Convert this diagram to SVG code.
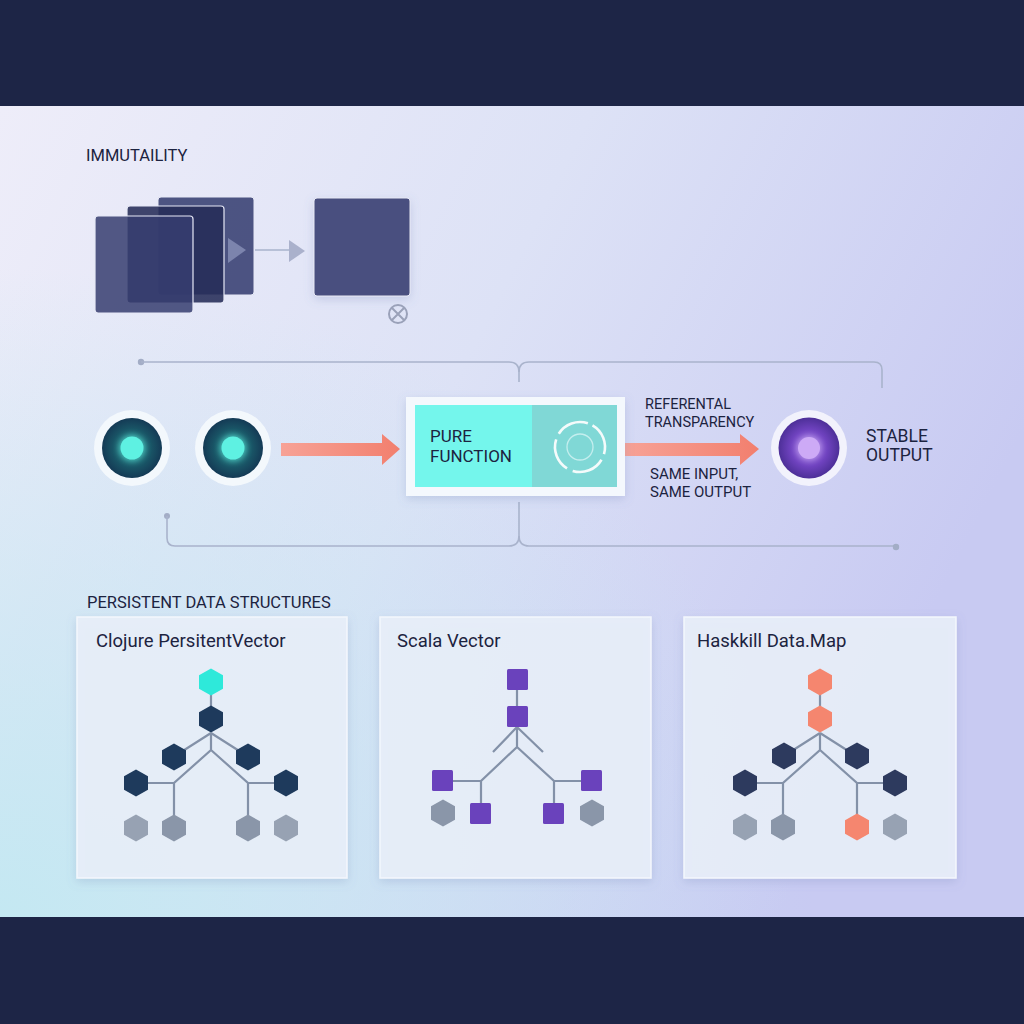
<svg xmlns="http://www.w3.org/2000/svg" width="1024" height="1024" viewBox="0 0 1024 1024">
<defs>
<linearGradient id="bg" x1="0" y1="0" x2="1" y2="0.4">
<stop offset="0" stop-color="#eeedf9"/>
<stop offset="0.5" stop-color="#dde2f6"/>
<stop offset="1" stop-color="#c8caf2"/>
</linearGradient>
<radialGradient id="bgc" cx="0" cy="1" r="0.8">
<stop offset="0" stop-color="#c4e8f2" stop-opacity="1"/>
<stop offset="1" stop-color="#c4e8f2" stop-opacity="0"/>
</radialGradient>
<radialGradient id="tealDot" cx="0.5" cy="0.5" r="0.5">
<stop offset="0" stop-color="#2a8a8c"/>
<stop offset="0.6" stop-color="#1a5868"/>
<stop offset="1" stop-color="#143a55"/>
</radialGradient>
<radialGradient id="purpDot" cx="0.5" cy="0.5" r="0.5">
<stop offset="0" stop-color="#a77ee6"/>
<stop offset="0.6" stop-color="#7043c0"/>
<stop offset="1" stop-color="#4d2f98"/>
</radialGradient>
<linearGradient id="arrowG" x1="0" y1="0" x2="1" y2="0">
<stop offset="0" stop-color="#f7a296"/>
<stop offset="1" stop-color="#f27f6e"/>
</linearGradient>
<filter id="sh" x="-20%" y="-20%" width="140%" height="140%">
<feDropShadow dx="0" dy="3" stdDeviation="5" flood-color="#6a7ab0" flood-opacity="0.25"/>
</filter>
<filter id="glow" x="-50%" y="-50%" width="200%" height="200%">
<feGaussianBlur stdDeviation="3"/>
</filter>
<path id="hex" d="M0,-13.5 L12,-6.75 L12,6.75 L0,13.5 L-12,6.75 L-12,-6.75 Z"/>
<style>
.t{font-family:Roboto,"Liberation Sans",sans-serif;fill:#1c2340}
.h{font-size:16.5px}
.pt{font-size:18.5px}
.lbl{font-size:14.5px}
.conn{fill:none;stroke:#a9b3cc;stroke-width:1.6}
.tree{fill:none;stroke:#8391a8;stroke-width:2.2}
.panel{fill:#e9eff9;fill-opacity:0.9;stroke:#f4f7fd;stroke-width:1.5}
.sq{fill:#6a42bc}
.navy{fill:#1e3a5c}
.dnav{fill:#2d3a5e}
.gray{fill:#8a96a9}
.lgray{fill:#97a2b3}
.sal{fill:#f5866f}
</style>
</defs>

<!-- background -->
<rect x="0" y="0" width="1024" height="1024" fill="#1d2546"/>
<rect x="0" y="106" width="1024" height="811" fill="url(#bg)"/>
<rect x="0" y="106" width="1024" height="811" fill="url(#bgc)"/>

<!-- section titles -->
<text class="t h" x="86" y="161">IMMUTAILITY</text>
<text class="t h" x="87" y="608">PERSISTENT DATA STRUCTURES</text>

<!-- immutability illustration -->
<g id="immutable-stack">
<rect x="158" y="197" width="96" height="98" rx="3" fill="#3f4677" fill-opacity="0.92" stroke="#e6e8f5" stroke-width="1"/>
<polygon points="228,238 246,250 228,263" fill="#7c84ad"/>
<rect x="127" y="206" width="97" height="97" rx="3" fill="#262c58" fill-opacity="0.88" stroke="#e6e8f5" stroke-width="1.2"/>
<rect x="95" y="216" width="98" height="97" rx="3" fill="#363d70" fill-opacity="0.85" stroke="#e6e8f5" stroke-width="1.2"/>
</g>
<g id="immutable-result">
<rect x="314" y="198" width="96" height="98" rx="3" fill="#4a507f" stroke="#e6e8f5" stroke-width="1" filter="url(#sh)"/>
<circle cx="398" cy="314" r="9" fill="none" stroke="#9aa1b9" stroke-width="2"/>
<path d="M392,308 L404,320 M404,308 L392,320" stroke="#9aa1b9" stroke-width="2"/>
</g>

<!-- connectors -->
<g id="connectors">
<path class="conn" d="M255,250 H290"/>
<polygon points="289,240 305,251 289,262" fill="#aab1cc"/>
<circle cx="141" cy="362" r="3.2" fill="#a3adc6"/>
<path class="conn" d="M141,362 H509 Q519,362 519,372 V382"/>
<path class="conn" d="M519,372 Q519,362 529,362 H874 Q882,362 882,370 V388"/>
<circle cx="167" cy="516" r="3" fill="#a3adc6"/>
<path class="conn" d="M167,516 V538 Q167,546 175,546 H509 Q519,546 519,536 V502"/>
<path class="conn" d="M519,536 Q519,546 529,546 H896"/>
<circle cx="896" cy="547" r="3.2" fill="#a3adc6"/>
<path d="M281,443 H382 V434 L400,449 L382,465 V456 H281 Z" fill="url(#arrowG)"/>
<path d="M625,443 H740 V434 L759,449 L740,465 V456 H625 Z" fill="url(#arrowG)"/>
</g>

<!-- input nodes -->
<g id="input-1">
<circle cx="132" cy="448" r="38" fill="#f5f9fd" opacity="0.9"/>
<circle cx="132" cy="448" r="30" fill="url(#tealDot)"/>
<circle cx="132" cy="448" r="13" fill="#5ef3e3" filter="url(#glow)" opacity="0.7"/>
<circle cx="132" cy="448" r="11.5" fill="#5ef1e2"/>
</g>
<g id="input-2">
<circle cx="233" cy="448" r="38" fill="#f5f9fd" opacity="0.9"/>
<circle cx="233" cy="448" r="30" fill="url(#tealDot)"/>
<circle cx="233" cy="448" r="13" fill="#5ef3e3" filter="url(#glow)" opacity="0.7"/>
<circle cx="233" cy="448" r="11.5" fill="#5ef1e2"/>
</g>

<!-- pure function -->
<g id="pure-function">
<rect x="406" y="397" width="219" height="99" fill="#f4f8fd" filter="url(#sh)"/>
<rect x="415" y="405" width="117" height="82" fill="#74f6ec"/>
<rect x="532" y="405" width="85" height="82" fill="#80d8d6"/>
<text class="t" x="430" y="442" font-size="17">PURE</text>
<text class="t" x="430" y="462" font-size="17">FUNCTION</text>
<circle cx="580" cy="447" r="25" fill="none" stroke="#f4fbfb" stroke-width="2.6" stroke-dasharray="33 6.3" transform="rotate(-60 580 447)"/>
<circle cx="580" cy="447" r="13" fill="none" stroke="#c4eeee" stroke-width="1.3"/>
</g>

<!-- labels -->
<g id="arrow-labels">
<text class="t lbl" x="645" y="409">REFERENTAL</text>
<text class="t lbl" x="645" y="427">TRANSPARENCY</text>
<text class="t" x="650" y="479" font-size="15">SAME INPUT,</text>
<text class="t" x="650" y="497" font-size="15">SAME OUTPUT</text>
</g>

<!-- output node -->
<g id="stable-output">
<circle cx="809" cy="448" r="38" fill="#f3f3fc" opacity="0.95"/>
<circle cx="809" cy="448" r="30.5" fill="url(#purpDot)"/>
<circle cx="809" cy="448" r="12" fill="#c8a6f4" filter="url(#glow)" opacity="0.8"/>
<circle cx="809" cy="448" r="11" fill="#cdaaf6"/>
<text class="t" x="866" y="442" font-size="17.5">STABLE</text>
<text class="t" x="866" y="461" font-size="17.5">OUTPUT</text>
</g>

<!-- panel 1 -->
<g id="panel-clojure">
<rect class="panel" x="77" y="617" width="270" height="261" filter="url(#sh)"/>
<text class="t pt" x="96" y="647">Clojure PersitentVector</text>
<path class="tree" d="M211,682 V719 M211,733 L178,754 M211,733 L244,754 M211,733 V750 L174,783 V828 M211,750 L248,783 V828 M136,783 H174 M248,783 H286"/>
<use href="#hex" x="211" y="682" fill="#2ee9da"/>
<use href="#hex" x="211" y="719" class="navy"/>
<use href="#hex" x="174" y="757" class="navy"/>
<use href="#hex" x="248" y="757" class="navy"/>
<use href="#hex" x="136" y="783" class="navy"/>
<use href="#hex" x="286" y="783" class="navy"/>
<use href="#hex" x="136" y="828" class="lgray"/>
<use href="#hex" x="174" y="828" class="gray"/>
<use href="#hex" x="248" y="828" class="gray"/>
<use href="#hex" x="286" y="828" class="lgray"/>
</g>

<!-- panel 2 -->
<g id="panel-scala">
<rect class="panel" x="380" y="617" width="271" height="261" filter="url(#sh)"/>
<text class="t pt" x="397" y="647">Scala Vector</text>
<path class="tree" d="M517,680 V717 M517,727 L493,752 M517,727 L543,752 M517,727 V747 L481,781 V813 M517,747 L554,781 V813 M443,781 H481 M554,781 H592"/>
<rect class="sq" x="507" y="669" width="21" height="21" rx="1.5"/>
<rect class="sq" x="507" y="706" width="21" height="21" rx="1.5"/>
<rect class="sq" x="432" y="770" width="21" height="21" rx="1.5"/>
<rect class="sq" x="581" y="770" width="21" height="21" rx="1.5"/>
<rect class="sq" x="470" y="803" width="21" height="21" rx="1.5"/>
<rect class="sq" x="543" y="803" width="21" height="21" rx="1.5"/>
<use href="#hex" x="443" y="813" class="gray"/>
<use href="#hex" x="592" y="813" class="gray"/>
</g>

<!-- panel 3 -->
<g id="panel-haskell">
<rect class="panel" x="684" y="617" width="272" height="261" filter="url(#sh)"/>
<text class="t pt" x="697" y="647">Haskkill Data.Map</text>
<path class="tree" d="M820,682 V719 M820,733 L787,754 M820,733 L853,754 M820,733 V750 L783,783 V827 M820,750 L857,783 V827 M745,783 H783 M857,783 H895"/>
<use href="#hex" x="820" y="682" class="sal"/>
<use href="#hex" x="820" y="719" class="sal"/>
<use href="#hex" x="784" y="756" class="dnav"/>
<use href="#hex" x="857" y="756" class="dnav"/>
<use href="#hex" x="745" y="783" class="dnav"/>
<use href="#hex" x="895" y="783" class="dnav"/>
<use href="#hex" x="745" y="827" class="lgray"/>
<use href="#hex" x="783" y="827" class="gray"/>
<use href="#hex" x="857" y="827" class="sal"/>
<use href="#hex" x="895" y="827" class="lgray"/>
</g>
</svg>
